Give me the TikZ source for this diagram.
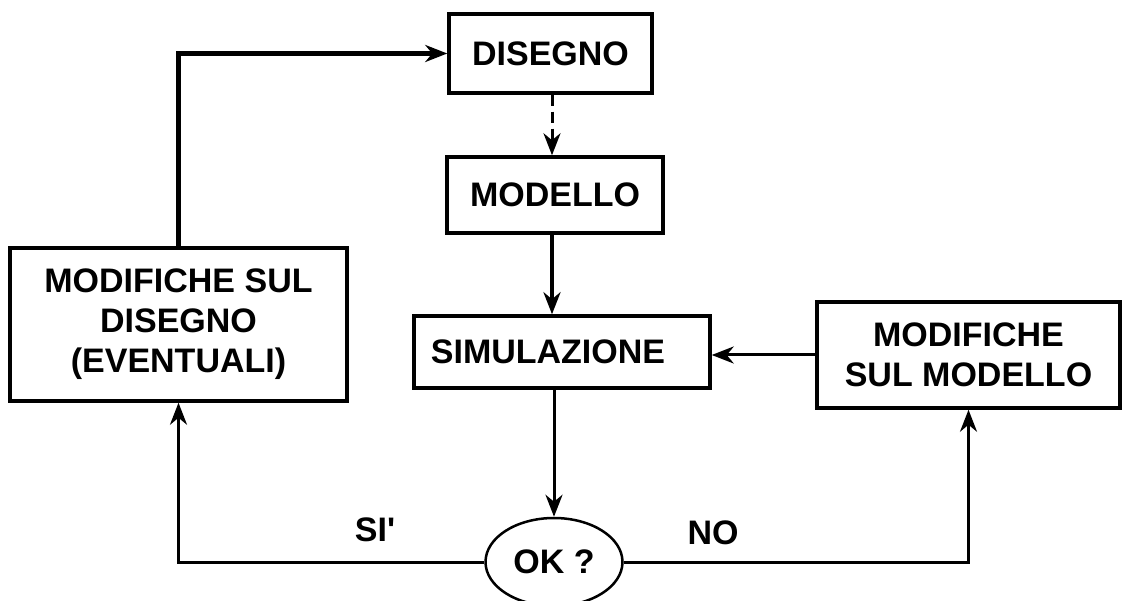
\documentclass[tikz,border=0pt]{standalone}
\usepackage{fontspec}
\setmainfont{Liberation Sans}
\usetikzlibrary{arrows.meta,shapes.geometric}
\begin{document}
\begin{tikzpicture}[x=1pt,y=-1pt,
  box/.style={draw, line width=3.5pt, rectangle, inner sep=0pt, font=\fontsize{34}{40}\selectfont\bfseries, align=center},
  conn/.style={line width=3pt, -{Stealth[length=22pt,width=17pt,inset=7pt]}},
  thickconn/.style={conn, line width=4.5pt},
  lbl/.style={font=\fontsize{34}{40}\selectfont\bfseries, inner sep=0pt}]
\useasboundingbox (0,0) rectangle (1127,601);
\clip (0,0) rectangle (1127,601);
\node[box, minimum width=203, minimum height=79] (dis) at (550.5,53.5) {DISEGNO};
\node[box, minimum width=216, minimum height=76] (mod) at (555,195) {MODELLO};
\node[box, minimum width=296, minimum height=72] (sim) at (562,352) {SIMULAZIONE\hspace*{28pt}};
\node[box, minimum width=337, minimum height=153] (left) at (178.5,324.5) {MODIFICHE SUL\\DISEGNO\\(EVENTUALI)};
\node[box, minimum width=303, minimum height=106] (right) at (968.5,355) {MODIFICHE\\SUL MODELLO};
\node[draw, ellipse, line width=2.5pt, minimum width=137, minimum height=88, inner sep=0pt, font=\fontsize{34}{40}\selectfont\bfseries] (ok) at (554,562) {OK ?};
\coordinate (c1) at (552,0);
\draw[conn, dash pattern=on 11pt off 6pt] (c1 |- dis.south) -- (c1 |- mod.north);
\draw[thickconn] (c1 |- mod.south) -- (c1 |- sim.north);
\draw[conn] (ok.north |- sim.south) -- (ok.north);
\draw[conn] (ok.west) -| (left.south);
\draw[conn] (ok.east) -| (right.south);
\draw[conn] (right.west) -- (sim.east |- right.west);
\draw[thickconn] (left.north) |- (dis.west);
\node[lbl] (si) at (375,530) {SI\textquotesingle};
\node[lbl] (no) at (713,533) {NO};
\end{tikzpicture}
\end{document}
